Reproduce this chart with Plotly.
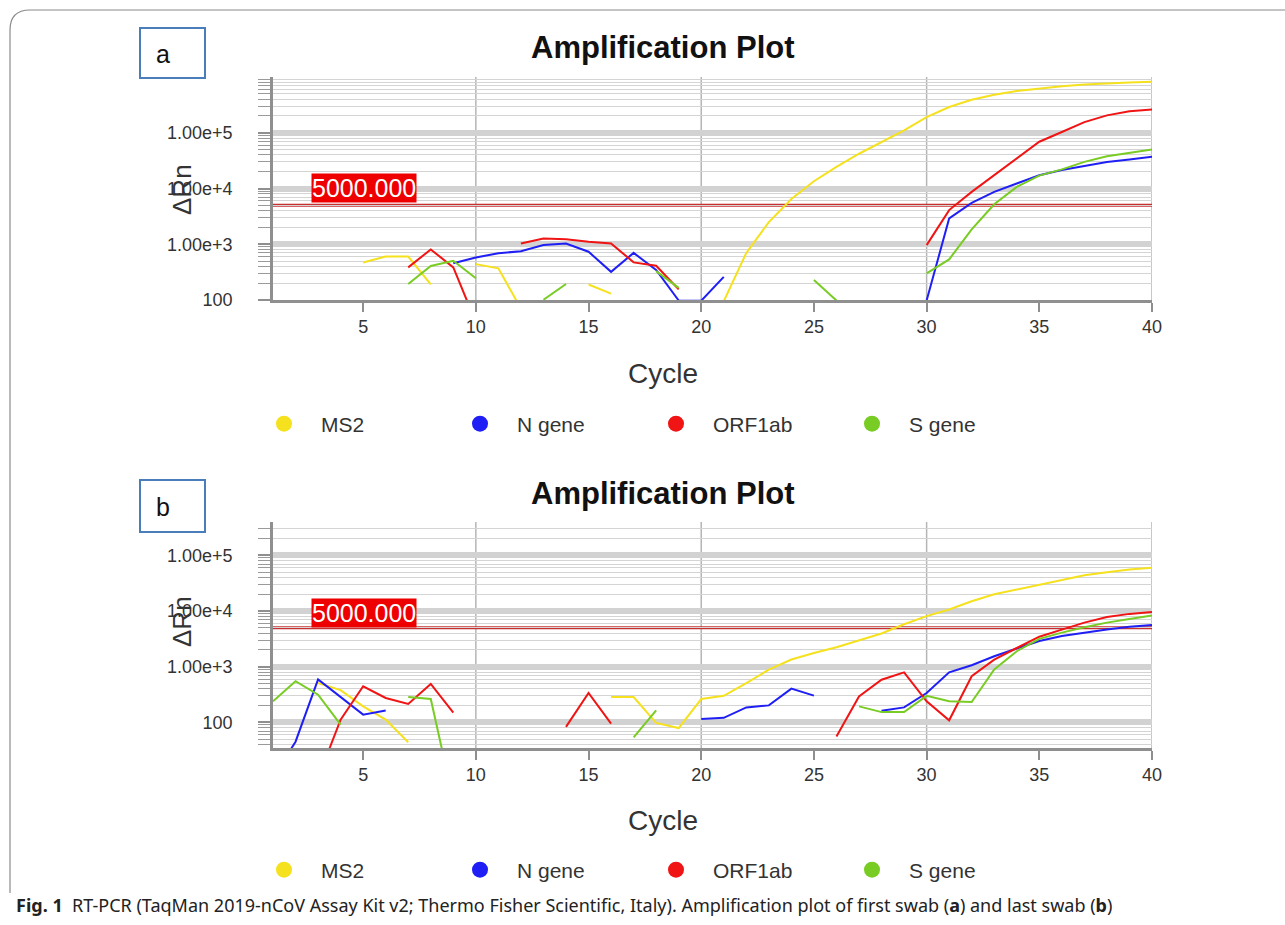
import plotly.graph_objects as go

W, H = 1285, 925

CYCLES = list(range(1, 41))
SERIES_NAMES = ["MS2", "N gene", "ORF1ab", "S gene"]
SERIES_COLORS = ["#f5e11e", "#1f1ff5", "#f01414", "#78cc23"]
THRESHOLD = 5000
PANEL_TITLE = "Amplification Plot"
Y_TICK_VALS = [100, 1000, 10000, 100000]
Y_TICK_TEXT = ["100", "1.00e+3", "1.00e+4", "1.00e+5"]
X_TICK_VALS = [5, 10, 15, 20, 25, 30, 35, 40]
X_GRID_VALS = [10, 20, 30, 40]

N = None
# ---- panel a (first swab) ----
MS2_A = [N, N, N, N, 470, 600, 600, 190, N, 440,
         370, 70, N, N, 190, 130, N, N, N, N,
         95, 700, 2500, 6500, 13500, 24500, 42000, 68000, 110000, 190000,
         290000, 390000, 480000, 560000, 620000, 680000, 730000, 770000, 800000, 820000]
NGENE_A = [N, N, N, N, N, N, N, N, 455, 580,
           690, 750, 965, 1030, 735, 320, 700, 345, 98, 97,
           260, N, N, N, N, N, N, N, N, 98,
           2900, 5500, 8700, 12300, 17300, 21500, 25600, 30000, 33000, 37000]
ORF1AB_A = [N, N, N, N, N, N, 385, 807, 385, 40,
            N, 1035, 1270, 1230, 1110, 1035, 473, 412, 155, N,
            N, N, N, N, N, N, N, N, N, 965,
            4100, 8700, 17300, 35000, 69000, 103000, 155000, 205000, 243000, 260000]
SGENE_A = [N, N, N, N, N, N, 194, 407, 505, 245,
           N, N, 101, 194, N, N, N, 330, 165, N,
           N, N, N, N, 228, 98, N, N, N, 300,
           535, 1850, 5200, 10700, 17000, 22000, 30000, 38000, 44000, 50000]
# ---- panel b (last swab) ----
MS2_B = [N, N, 510, 380, 194, 112, 44, N, N, N,
         N, N, N, N, N, 285, 285, 98, 79, 263,
         300, 510, 885, 1350, 1770, 2240, 2950, 3950, 5800, 8100,
         10700, 15000, 20000, 24500, 30000, 37000, 44000, 50000, 56000, 60000]
NGENE_B = [10, 45, 590, 285, 138, 164, N, N, N, N,
           N, N, N, N, N, N, N, N, N, 115,
           121, 186, 202, 404, 302, N, N, 162, 186, 337,
           794, 1065, 1540, 2130, 2900, 3550, 4100, 4650, 5200, 5600]
ORF1AB_B = [N, N, 10, 112, 445, 275, 214, 490, 150, N,
            N, N, N, 83, 337, 95, N, N, N, N,
            N, N, N, N, N, 56, 293, 585, 794, 239,
            109, 675, 1340, 2170, 3460, 4650, 6200, 7800, 8900, 9600]
SGENE_B = [239, 550, 315, 91, N, N, 285, 263, 4, N,
           N, N, N, N, N, N, 54, 165, N, N,
           N, N, N, N, N, N, 194, 153, 153, 300,
           239, 233, 890, 1900, 3170, 4100, 5100, 6200, 7200, 8300]

PANELS = [
    dict(label="a", series=[MS2_A, NGENE_A, ORF1AB_A, SGENE_A], yrange=[2.0, 6.0]),
    dict(label="b", series=[MS2_B, NGENE_B, ORF1AB_B, SGENE_B], yrange=[1.54, 5.6]),
]

# ---- layout geometry (pixels) ----
PLOT_X0, PLOT_X1 = 273, 1152
GEOM = [
    dict(top=77, bottom=300, title_y=47, box=(140, 28, 205, 78), letter=(163, 54),
         ylab_y=190, cycle_y=373, legend_y=424, thr_label_y=188),
    dict(top=522, bottom=748, title_y=493, box=(140, 480, 205, 532), letter=(163, 507),
         ylab_y=622, cycle_y=820, legend_y=870, thr_label_y=613),
]


def px(x):
    return x / W


def py(y):
    return 1 - y / H


FONT = "Liberation Sans, Arial, sans-serif"

fig = go.Figure()

minor_vals = []
for d in range(0, 7):
    for k in range(2, 10):
        minor_vals.append(k * 10 ** d)

shapes = []
annotations = []
layout_axes = {}

for i, (panel, g) in enumerate(zip(PANELS, GEOM)):
    xa = "x" if i == 0 else "x2"
    ya = "y" if i == 0 else "y2"
    xkey = "xaxis" if i == 0 else "xaxis2"
    ykey = "yaxis" if i == 0 else "yaxis2"
    leg = "legend" if i == 0 else "legend2"

    for name, color, vals in zip(SERIES_NAMES, SERIES_COLORS, panel["series"]):
        fig.add_trace(go.Scatter(
            x=CYCLES, y=vals, mode="lines", name=name,
            line=dict(color=color, width=2), connectgaps=False,
            xaxis=xa, yaxis=ya, showlegend=False, hoverinfo="skip"))
        fig.add_trace(go.Scatter(
            x=[None], y=[None], mode="markers", name=name,
            marker=dict(color=color, size=22), xaxis=xa, yaxis=ya,
            legend=leg, showlegend=True))

    layout_axes[xkey] = dict(
        domain=[px(PLOT_X0), px(PLOT_X1)], range=[1, 40], anchor=ya,
        tickmode="array", tickvals=X_TICK_VALS, ticks="outside", ticklen=9,
        tickwidth=2, tickcolor="#8f8f8f", showgrid=False, zeroline=False,
        showline=True, linecolor="#8f8f8f", linewidth=2.5,
        tickfont=dict(family=FONT, size=18, color="#333333"), automargin=False)
    layout_axes[ykey] = dict(
        domain=[py(g["bottom"]), py(g["top"])], type="log", range=panel["yrange"],
        anchor=xa, tickmode="array", tickvals=Y_TICK_VALS, ticktext=Y_TICK_TEXT,
        ticks="outside", ticklen=12, tickwidth=1.5, tickcolor="#8f8f8f",
        showgrid=True, gridcolor="#d2d2d2", gridwidth=6, zeroline=False,
        showline=True, linecolor="#8f8f8f", linewidth=2.5,
        ticklabelstandoff=22,
        minor=dict(tickmode="array", tickvals=minor_vals, ticks="outside",
                   ticklen=12, tickwidth=1, tickcolor="#9a9a9a",
                   showgrid=True, gridcolor="#d4d4d4", gridwidth=1),
        tickfont=dict(family=FONT, size=18, color="#333333"), automargin=False)

    for gx in X_GRID_VALS:
        shapes.append(dict(type="line", xref=xa, yref=f"{ya} domain", x0=gx, x1=gx,
                           y0=0, y1=1, line=dict(color="#b5b5b5", width=1.5),
                           layer="below"))
    shapes.append(dict(type="line", xref=f"{xa} domain", yref=ya, x0=0, x1=1,
                       y0=THRESHOLD, y1=THRESHOLD,
                       line=dict(color="#c83030", width=3), layer="below"))

    annotations.append(dict(
        x=px(311), y=py(g["thr_label_y"]), xref="paper", yref="paper",
        xanchor="left", yanchor="middle", showarrow=False,
        text=f"{THRESHOLD:.3f}", bgcolor="#ee0000", borderpad=0,
        font=dict(family=FONT, size=25, color="white")))

    annotations.append(dict(
        x=px(663), y=py(g["title_y"]), xref="paper", yref="paper",
        xanchor="center", yanchor="middle", showarrow=False,
        text=f"<b>{PANEL_TITLE}</b>", font=dict(family=FONT, size=31, color="#111111")))

    annotations.append(dict(
        x=px(663), y=py(g["cycle_y"]), xref="paper", yref="paper",
        xanchor="center", yanchor="middle", showarrow=False,
        text="Cycle", font=dict(family=FONT, size=28, color="#333333")))

    annotations.append(dict(
        x=px(182), y=py(g["ylab_y"]), xref="paper", yref="paper",
        xanchor="center", yanchor="middle", showarrow=False, textangle=-90,
        text="ΔRn",
        font=dict(family=FONT, size=26, color="#333333")))

    bx0, by0, bx1, by1 = g["box"]
    shapes.append(dict(type="rect", xref="paper", yref="paper",
                       x0=px(bx0), x1=px(bx1), y0=py(by1), y1=py(by0),
                       line=dict(color="#4a7ebb", width=2), fillcolor="white"))
    annotations.append(dict(
        x=px(g["letter"][0]), y=py(g["letter"][1]), xref="paper", yref="paper",
        xanchor="center", yanchor="middle", showarrow=False,
        text=panel["label"], font=dict(family=FONT, size=25, color="#111111")))

# outer frame
fx0, fy0, r = 10, 10, 20
frame_path = (f"M {px(W + 5)},{py(fy0)} L {px(fx0 + r)},{py(fy0)} "
              f"Q {px(fx0)},{py(fy0)} {px(fx0)},{py(fy0 + r)} L {px(fx0)},{py(893)}")
shapes.append(dict(type="path", xref="paper", yref="paper", path=frame_path,
                   line=dict(color="#8a8a8a", width=1.2)))

annotations.append(dict(
    x=px(14), y=py(905), xref="paper", yref="paper", xanchor="left", yanchor="middle",
    showarrow=False,
    text=("<b>Fig. 1</b>  RT-PCR (TaqMan 2019-nCoV Assay Kit v2; Thermo Fisher Scientific, "
          "Italy). Amplification plot of first swab (<b>a</b>) and last swab (<b>b</b>)"),
    font=dict(family="Liberation Sans Narrow, Noto Sans, sans-serif", size=18, color="#222222")))

legend_common = dict(orientation="h", xanchor="left", yanchor="middle",
                     entrywidth=117, entrywidthmode="pixels", itemwidth=64,
                     itemsizing="trace", bgcolor="rgba(0,0,0,0)",
                     font=dict(family=FONT, size=21, color="#333333"))

fig.update_layout(
    width=W, height=H, margin=dict(l=0, r=0, t=0, b=0),
    paper_bgcolor="white", plot_bgcolor="white",
    showlegend=True,
    legend=dict(x=px(247), y=py(GEOM[0]["legend_y"]), **legend_common),
    legend2=dict(x=px(247), y=py(GEOM[1]["legend_y"]), **legend_common),
    shapes=shapes, annotations=annotations, **layout_axes)

fig.write_html("out.html", config={"displayModeBar": False},
               post_script="document.body.style.margin='0';")
